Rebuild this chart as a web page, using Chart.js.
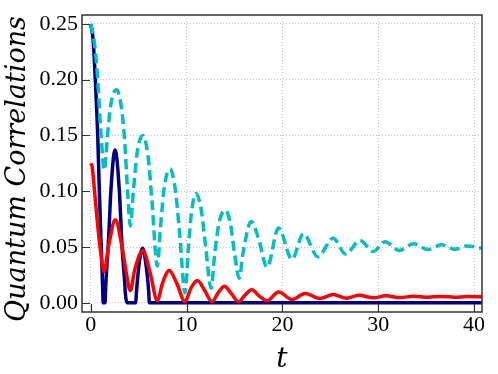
<!DOCTYPE html>
<html><head><meta charset="utf-8">
<script src="https://cdn.jsdelivr.net/npm/chart.js@4"></script>
<style>html,body{margin:0;padding:0;background:#fff}</style>
</head><body>
<canvas id="c" width="498" height="374"></canvas>
<script>
// ---- data ----
const navyT = [0,0.25,0.48,0.73,0.9,1.1,1.25,1.3,1.5,1.55,1.88,2.1,2.54,2.99,3.27,3.55,3.62,3.78,4.7,4.76,5.05,5.42,5.8,6.05,6.12,40.85];
const navyQ = [0.25,0.236,0.20,0.15,0.10,0.05,0.012,0,0,0.012,0.06,0.10,0.137,0.10,0.05,0.018,0.008,0,0,0.008,0.035,0.049,0.032,0.01,0,0];

const redT = [0,0.15,0.4,0.7,0.97,1.4,1.85,2.57,3.27,3.75,4.13,4.6,5.45,6.2,6.95,7.5,8.2,9.0,9.84,10.45,11.13,11.9,12.65,13.3,13.95,14.7,15.45,16.1,16.8,17.6,18.4,19.6,21.0,22.4,23.9,25.3,26.7,28.0,29.5,30.8,32.3,33.7,35.2,36.6,38.0,39.3,40.85];
const redQ = [0.125,0.122,0.10,0.072,0.05,0.028,0.05,0.0745,0.05,0.025,0.011,0.03,0.047,0.027,0.002,0.018,0.029,0.017,0.001,0.013,0.020,0.011,0.001,0.009,0.0148,0.008,0.001,0.007,0.0118,0.006,0.0018,0.0097,0.003,0.0083,0.0039,0.0074,0.0042,0.0068,0.0045,0.0063,0.0047,0.006,0.005,0.0058,0.0051,0.0056,0.0055];

const cyanT = [0,0.4,0.73,1.08,1.42,1.75,2.1,2.71,3.2,3.5,3.85,4.13,4.45,4.85,5.45,6.0,6.4,6.95,7.3,7.7,8.28,8.85,9.3,9.84,10.2,10.5,10.96,11.5,12.0,12.56,12.95,13.4,14.05,14.6,15.0,15.5,15.9,16.75,17.5,18.4,19.6,21.0,22.2,23.7,25.3,26.6,28.1,29.5,30.7,32.2,33.7,35.2,36.6,38.0,39.2,40.85];
const cyanQ = [0.25,0.232,0.20,0.15,0.119,0.15,0.178,0.191,0.175,0.15,0.10,0.069,0.10,0.135,0.150,0.13,0.09,0.033,0.07,0.105,0.120,0.10,0.06,0.009,0.05,0.08,0.098,0.085,0.05,0.013,0.045,0.072,0.083,0.07,0.045,0.022,0.045,0.073,0.058,0.032,0.067,0.039,0.062,0.0413,0.058,0.0437,0.056,0.046,0.0548,0.047,0.053,0.0478,0.052,0.048,0.051,0.049];

const xTicks = [0,10,20,30,40];
const yTicks = [0,0.05,0.10,0.15,0.20,0.25];
const xTitle = 't';
const yTitle = 'Quantum Correlations';

const pts = (T,Q) => T.map((t,i)=>({x:t,y:Q[i]}));
const serif = 'DejaVu Serif';
const tickFont = 'Liberation Serif';

const frame = {
  id:'frame',
  afterDatasetsDraw(chart){
    const {ctx, chartArea:a, scales:{x,y}} = chart;
    ctx.save();
    ctx.strokeStyle = '#333';
    ctx.lineWidth = 1.2;
    ctx.beginPath();
    xTicks.forEach(v=>{const p=Math.round(x.getPixelForValue(v))+0.5; ctx.moveTo(p,a.bottom); ctx.lineTo(p,a.bottom-8);});
    yTicks.forEach(v=>{const p=Math.round(y.getPixelForValue(v))+0.5; ctx.moveTo(a.left,p); ctx.lineTo(a.left+8,p);});
    ctx.stroke();
    ctx.lineWidth = 1.5;
    ctx.strokeRect(a.left, a.top, a.right-a.left, a.bottom-a.top);
    ctx.restore();
  },
  afterDraw(chart){
    const ctx = chart.ctx;
    ctx.save();
    ctx.translate(25, 169);
    ctx.rotate(-Math.PI/2);
    ctx.fillStyle = '#000';
    ctx.font = 'italic 27px "DejaVu Serif"';
    ctx.textAlign = 'center';
    ctx.textBaseline = 'alphabetic';
    ctx.fillText(yTitle, 0, 0);
    ctx.restore();
  }
};

new Chart(document.getElementById('c'), {
  type:'line',
  data:{datasets:[
    {data:pts(cyanT,cyanQ), borderColor:'#00bfbf', borderWidth:3.5, borderDash:[10,5], cubicInterpolationMode:'monotone'},
    {data:pts(redT,redQ), borderColor:'#ff0000', borderWidth:3.5, cubicInterpolationMode:'monotone'},
    {data:pts(navyT,navyQ), borderColor:'#000080', borderWidth:3.5, cubicInterpolationMode:'monotone'}
  ]},
  options:{
    responsive:false, animation:false, devicePixelRatio:1,
    layout:{padding:{top:11,right:16,left:0,bottom:0}},
    plugins:{legend:{display:false}, tooltip:{enabled:false}},
    elements:{point:{radius:0}, line:{fill:false}},
    scales:{
      x:{type:'linear', min:-0.91, max:40.83,
        afterBuildTicks:s=>{s.ticks = xTicks.map(v=>({value:v}));},
        afterFit:s=>{s.height = 62;},
        grid:{color:'#b8b8b8', lineWidth:0.8, drawTicks:false},
        border:{display:false, dash:[1,2]},
        ticks:{padding:2, color:'#000', maxRotation:0, autoSkip:false, font:{family:tickFont, size:22, lineHeight:1}, callback:v=>String(v)},
        title:{display:true, text:xTitle, color:'#000', font:{family:serif, style:'italic', size:28, lineHeight:1}, padding:{top:0,bottom:0}}
      },
      y:{type:'linear', min:-0.0082, max:0.258,
        afterBuildTicks:s=>{s.ticks = yTicks.map(v=>({value:v}));},
        afterFit:s=>{s.width = 82;},
        grid:{color:'#b8b8b8', lineWidth:0.8, drawTicks:false},
        border:{display:false, dash:[1,2]},
        ticks:{padding:4, color:'#000', autoSkip:false, font:{family:tickFont, size:22, lineHeight:1}, callback:v=>Number(v).toFixed(2)},
        title:{display:false}
      }
    }
  },
  plugins:[frame]
});
</script>
</body></html>
